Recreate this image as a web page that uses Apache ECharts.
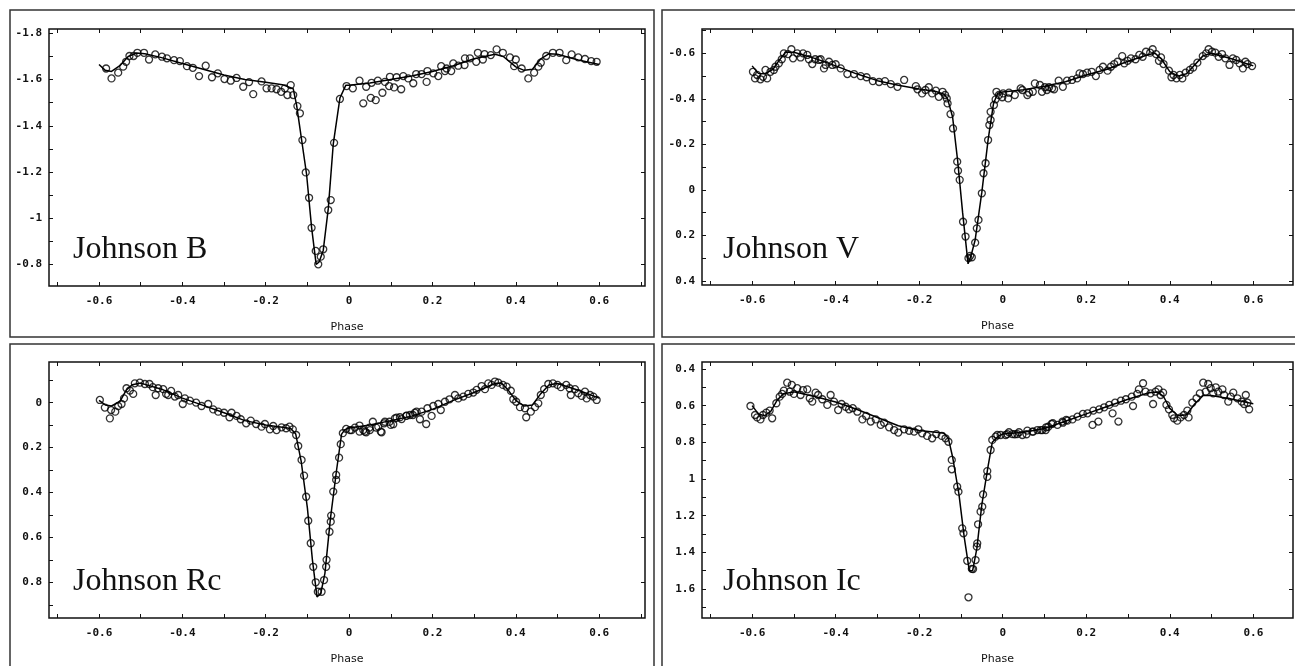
<!DOCTYPE html>
<html>
<head>
<meta charset="utf-8">
<script src="https://cdn.jsdelivr.net/npm/echarts@6/dist/echarts.min.js"></script>
<style>
html,body{margin:0;padding:0;background:#fff;}
#chart{width:1295px;height:666px;}
</style>
</head>
<body>
<div id="chart"></div>
<script>
// ---------- Panel titles ----------
const panelNames = ["Johnson B", "Johnson V", "Johnson Rc", "Johnson Ic"];

// ---------- Tick labels ----------
const xTickLabels = [-0.6, -0.4, -0.2, 0, 0.2, 0.4, 0.6];
const xMinorTicks = [-0.7, -0.6, -0.5, -0.4, -0.3, -0.2, -0.1, 0, 0.1, 0.2, 0.3, 0.4, 0.5, 0.6, 0.7];
const bTickLabels = [-1.8, -1.6, -1.4, -1.2, -1, -0.8];
const vTickLabels = [-0.6, -0.4, -0.2, 0, 0.2, 0.4];
const rTickLabels = [0, 0.2, 0.4, 0.6, 0.8];
const iTickLabels = [0.4, 0.6, 0.8, 1, 1.2, 1.4, 1.6];

// ---------- Johnson B ----------
const bObsPhase = [-0.583,-0.570,-0.554,-0.542,-0.535,-0.527,-0.517,-0.508,-0.492,-0.480,-0.465,-0.449,-0.437,-0.420,-0.406,-0.389,-0.375,-0.360,-0.344,-0.329,-0.315,-0.299,-0.284,-0.270,-0.254,-0.240,-0.230,-0.210,-0.198,-0.186,-0.174,-0.163,-0.154,-0.148,-0.140,-0.134,-0.124,-0.118,-0.112,-0.104,-0.096,-0.090,-0.080,-0.074,-0.068,-0.062,-0.050,-0.044,-0.036,-0.022,-0.006,0.009,0.025,0.034,0.041,0.052,0.054,0.064,0.069,0.080,0.086,0.096,0.098,0.108,0.114,0.125,0.130,0.142,0.154,0.161,0.174,0.186,0.188,0.202,0.214,0.221,0.230,0.234,0.245,0.250,0.262,0.277,0.278,0.290,0.305,0.309,0.321,0.325,0.340,0.354,0.369,0.386,0.396,0.400,0.414,0.430,0.444,0.454,0.460,0.473,0.489,0.505,0.521,0.534,0.550,0.566,0.581,0.594];
const bObsMag = [-1.648,-1.605,-1.630,-1.656,-1.677,-1.702,-1.702,-1.716,-1.716,-1.687,-1.709,-1.699,-1.692,-1.684,-1.680,-1.658,-1.651,-1.615,-1.660,-1.610,-1.627,-1.602,-1.595,-1.607,-1.569,-1.589,-1.537,-1.592,-1.562,-1.562,-1.558,-1.547,-1.562,-1.533,-1.576,-1.533,-1.485,-1.454,-1.338,-1.198,-1.088,-0.958,-0.858,-0.800,-0.833,-0.865,-1.035,-1.078,-1.326,-1.516,-1.572,-1.562,-1.595,-1.497,-1.569,-1.521,-1.586,-1.511,-1.595,-1.543,-1.590,-1.572,-1.612,-1.566,-1.610,-1.558,-1.615,-1.605,-1.584,-1.624,-1.624,-1.590,-1.637,-1.627,-1.615,-1.658,-1.637,-1.648,-1.637,-1.670,-1.660,-1.663,-1.692,-1.692,-1.677,-1.716,-1.687,-1.710,-1.706,-1.731,-1.716,-1.696,-1.658,-1.687,-1.648,-1.605,-1.630,-1.656,-1.673,-1.702,-1.716,-1.716,-1.684,-1.709,-1.696,-1.689,-1.680,-1.677];
const bFitPhase = [-0.60,-0.585,-0.57,-0.55,-0.53,-0.51,-0.49,-0.45,-0.40,-0.35,-0.30,-0.25,-0.20,-0.16,-0.134,-0.126,-0.114,-0.102,-0.090,-0.079,-0.072,-0.062,-0.050,-0.038,-0.022,-0.008,0.00,0.05,0.10,0.15,0.20,0.25,0.30,0.35,0.37,0.40,0.42,0.44,0.46,0.48,0.50,0.55,0.60];
const bFitMag = [-1.665,-1.640,-1.635,-1.660,-1.700,-1.715,-1.712,-1.695,-1.670,-1.645,-1.620,-1.600,-1.588,-1.578,-1.560,-1.490,-1.340,-1.190,-0.960,-0.800,-0.810,-0.860,-1.040,-1.320,-1.520,-1.575,-1.575,-1.585,-1.600,-1.615,-1.635,-1.660,-1.690,-1.710,-1.700,-1.655,-1.640,-1.645,-1.690,-1.712,-1.710,-1.685,-1.665];

// ---------- Johnson V ----------
const vObsPhase = [-0.598,-0.593,-0.588,-0.580,-0.574,-0.568,-0.564,-0.556,-0.548,-0.544,-0.536,-0.529,-0.524,-0.514,-0.506,-0.502,-0.492,-0.484,-0.478,-0.468,-0.464,-0.456,-0.449,-0.440,-0.436,-0.428,-0.424,-0.416,-0.408,-0.400,-0.388,-0.372,-0.356,-0.340,-0.326,-0.311,-0.296,-0.282,-0.268,-0.252,-0.236,-0.208,-0.204,-0.193,-0.185,-0.177,-0.169,-0.160,-0.153,-0.144,-0.138,-0.134,-0.132,-0.125,-0.119,-0.109,-0.107,-0.103,-0.095,-0.089,-0.082,-0.078,-0.074,-0.066,-0.062,-0.058,-0.050,-0.046,-0.041,-0.035,-0.032,-0.029,-0.029,-0.021,-0.017,-0.015,-0.009,-0.001,0.001,0.013,0.015,0.029,0.043,0.047,0.059,0.063,0.072,0.077,0.089,0.094,0.101,0.106,0.111,0.118,0.123,0.134,0.144,0.154,0.166,0.178,0.184,0.192,0.202,0.213,0.223,0.232,0.240,0.251,0.259,0.267,0.275,0.286,0.291,0.299,0.307,0.318,0.327,0.335,0.343,0.353,0.359,0.367,0.374,0.379,0.385,0.398,0.404,0.409,0.416,0.424,0.430,0.438,0.448,0.456,0.466,0.479,0.487,0.493,0.501,0.509,0.517,0.525,0.533,0.543,0.551,0.559,0.567,0.575,0.581,0.586,0.597];
const vObsMag = [-0.519,-0.490,-0.505,-0.486,-0.497,-0.527,-0.490,-0.519,-0.527,-0.541,-0.556,-0.574,-0.600,-0.597,-0.618,-0.578,-0.600,-0.582,-0.600,-0.593,-0.574,-0.553,-0.574,-0.571,-0.574,-0.534,-0.549,-0.563,-0.549,-0.552,-0.534,-0.509,-0.509,-0.500,-0.495,-0.478,-0.474,-0.478,-0.465,-0.453,-0.483,-0.456,-0.442,-0.424,-0.439,-0.451,-0.424,-0.436,-0.409,-0.431,-0.417,-0.402,-0.380,-0.333,-0.270,-0.124,-0.084,-0.044,0.140,0.205,0.300,0.290,0.296,0.232,0.169,0.132,0.015,-0.073,-0.117,-0.219,-0.285,-0.307,-0.343,-0.373,-0.398,-0.431,-0.417,-0.407,-0.424,-0.402,-0.427,-0.417,-0.446,-0.439,-0.417,-0.427,-0.431,-0.468,-0.461,-0.431,-0.451,-0.439,-0.451,-0.446,-0.442,-0.480,-0.453,-0.480,-0.483,-0.490,-0.512,-0.509,-0.515,-0.519,-0.500,-0.527,-0.541,-0.524,-0.541,-0.553,-0.563,-0.588,-0.556,-0.567,-0.578,-0.574,-0.593,-0.585,-0.607,-0.603,-0.618,-0.597,-0.567,-0.582,-0.553,-0.524,-0.495,-0.505,-0.490,-0.505,-0.490,-0.515,-0.527,-0.538,-0.559,-0.588,-0.600,-0.618,-0.607,-0.603,-0.585,-0.597,-0.578,-0.549,-0.578,-0.571,-0.556,-0.534,-0.563,-0.553,-0.544];
const vFitPhase = [-0.60,-0.585,-0.57,-0.55,-0.535,-0.52,-0.50,-0.45,-0.40,-0.35,-0.30,-0.25,-0.20,-0.16,-0.14,-0.132,-0.12,-0.108,-0.096,-0.083,-0.076,-0.066,-0.05,-0.035,-0.022,-0.012,0.00,0.05,0.10,0.15,0.20,0.25,0.30,0.35,0.365,0.38,0.40,0.42,0.44,0.46,0.48,0.50,0.55,0.60];
const vFitMag = [-0.545,-0.512,-0.510,-0.530,-0.570,-0.605,-0.605,-0.578,-0.545,-0.510,-0.480,-0.460,-0.443,-0.432,-0.420,-0.400,-0.320,-0.130,0.100,0.325,0.290,0.220,0.010,-0.220,-0.380,-0.425,-0.430,-0.440,-0.455,-0.475,-0.505,-0.530,-0.565,-0.595,-0.600,-0.575,-0.520,-0.500,-0.510,-0.550,-0.590,-0.600,-0.575,-0.545];

// ---------- Johnson Rc ----------
const rObsPhase = [-0.598,-0.586,-0.574,-0.571,-0.561,-0.554,-0.546,-0.540,-0.534,-0.526,-0.518,-0.514,-0.502,-0.490,-0.479,-0.471,-0.464,-0.458,-0.446,-0.439,-0.434,-0.427,-0.418,-0.410,-0.399,-0.394,-0.382,-0.367,-0.354,-0.338,-0.326,-0.314,-0.300,-0.287,-0.282,-0.270,-0.260,-0.247,-0.236,-0.223,-0.210,-0.202,-0.190,-0.182,-0.174,-0.162,-0.151,-0.143,-0.135,-0.127,-0.122,-0.114,-0.108,-0.103,-0.098,-0.092,-0.086,-0.080,-0.075,-0.066,-0.060,-0.055,-0.054,-0.047,-0.044,-0.043,-0.038,-0.031,-0.031,-0.024,-0.020,-0.015,-0.007,0.002,0.006,0.014,0.025,0.025,0.034,0.038,0.041,0.049,0.050,0.057,0.065,0.070,0.076,0.078,0.084,0.086,0.097,0.100,0.106,0.110,0.114,0.122,0.126,0.137,0.138,0.146,0.153,0.158,0.162,0.170,0.174,0.185,0.188,0.198,0.202,0.214,0.220,0.230,0.241,0.254,0.262,0.274,0.286,0.298,0.306,0.318,0.326,0.334,0.342,0.350,0.358,0.369,0.378,0.388,0.394,0.401,0.410,0.422,0.425,0.436,0.446,0.454,0.460,0.468,0.478,0.489,0.500,0.508,0.521,0.529,0.532,0.542,0.550,0.558,0.566,0.570,0.578,0.586,0.594];
const rObsMag = [-0.012,0.022,0.070,0.033,0.040,0.015,0.006,-0.019,-0.064,-0.054,-0.039,-0.086,-0.089,-0.083,-0.083,-0.069,-0.034,-0.064,-0.060,-0.039,-0.034,-0.052,-0.027,-0.034,0.006,-0.019,-0.009,0.000,0.015,0.006,0.030,0.040,0.045,0.065,0.045,0.059,0.074,0.092,0.080,0.095,0.107,0.095,0.119,0.104,0.122,0.110,0.114,0.107,0.119,0.144,0.193,0.255,0.325,0.419,0.526,0.626,0.731,0.800,0.842,0.842,0.790,0.731,0.700,0.575,0.530,0.503,0.396,0.344,0.322,0.245,0.185,0.136,0.117,0.122,0.122,0.111,0.102,0.129,0.122,0.129,0.132,0.111,0.122,0.085,0.111,0.107,0.129,0.132,0.092,0.085,0.085,0.099,0.096,0.070,0.067,0.065,0.073,0.059,0.058,0.055,0.055,0.045,0.040,0.074,0.040,0.095,0.025,0.059,0.015,0.006,0.033,-0.004,-0.015,-0.034,-0.019,-0.027,-0.039,-0.045,-0.057,-0.074,-0.060,-0.086,-0.079,-0.094,-0.089,-0.079,-0.071,-0.053,-0.015,-0.004,0.020,0.025,0.065,0.040,0.020,0.003,-0.034,-0.060,-0.083,-0.086,-0.079,-0.069,-0.079,-0.064,-0.034,-0.060,-0.042,-0.030,-0.049,-0.019,-0.034,-0.027,-0.012];
const rFitPhase = [-0.60,-0.585,-0.57,-0.55,-0.535,-0.52,-0.50,-0.45,-0.40,-0.35,-0.30,-0.25,-0.20,-0.16,-0.14,-0.128,-0.115,-0.10,-0.088,-0.077,-0.068,-0.058,-0.045,-0.03,-0.018,-0.01,0.00,0.05,0.10,0.15,0.20,0.25,0.30,0.35,0.365,0.38,0.40,0.42,0.44,0.46,0.48,0.50,0.55,0.60];
const rFitMag = [-0.010,0.010,0.015,-0.005,-0.055,-0.080,-0.087,-0.060,-0.020,0.012,0.045,0.080,0.100,0.110,0.115,0.140,0.260,0.470,0.700,0.865,0.850,0.760,0.520,0.300,0.140,0.120,0.113,0.100,0.080,0.060,0.030,-0.010,-0.045,-0.085,-0.088,-0.060,-0.010,0.015,0.010,-0.040,-0.080,-0.085,-0.055,-0.020];

// ---------- Johnson Ic ----------
const iObsPhase = [-0.604,-0.593,-0.588,-0.580,-0.574,-0.566,-0.558,-0.552,-0.542,-0.534,-0.528,-0.524,-0.516,-0.510,-0.505,-0.500,-0.492,-0.484,-0.478,-0.468,-0.462,-0.456,-0.448,-0.442,-0.432,-0.420,-0.412,-0.404,-0.394,-0.386,-0.376,-0.368,-0.359,-0.348,-0.336,-0.327,-0.316,-0.304,-0.292,-0.284,-0.272,-0.260,-0.250,-0.236,-0.224,-0.212,-0.202,-0.193,-0.181,-0.169,-0.159,-0.146,-0.137,-0.130,-0.122,-0.122,-0.109,-0.106,-0.097,-0.094,-0.085,-0.082,-0.074,-0.071,-0.065,-0.062,-0.061,-0.059,-0.053,-0.049,-0.047,-0.037,-0.037,-0.029,-0.025,-0.017,-0.013,-0.005,0.007,0.011,0.015,0.023,0.029,0.035,0.039,0.047,0.057,0.059,0.071,0.073,0.083,0.091,0.095,0.103,0.104,0.109,0.117,0.120,0.131,0.143,0.144,0.152,0.155,0.167,0.179,0.192,0.203,0.215,0.217,0.229,0.231,0.243,0.255,0.263,0.269,0.277,0.283,0.295,0.309,0.312,0.322,0.326,0.336,0.342,0.354,0.360,0.366,0.373,0.378,0.384,0.392,0.398,0.406,0.410,0.418,0.426,0.434,0.442,0.445,0.454,0.464,0.472,0.480,0.486,0.492,0.498,0.504,0.510,0.516,0.526,0.530,0.540,0.546,0.552,0.562,0.572,0.578,0.582,0.586,0.590];
const iObsMag = [0.602,0.651,0.664,0.675,0.651,0.638,0.627,0.669,0.587,0.551,0.536,0.518,0.475,0.524,0.487,0.536,0.505,0.542,0.515,0.511,0.560,0.578,0.529,0.542,0.565,0.596,0.542,0.578,0.624,0.591,0.606,0.620,0.614,0.633,0.675,0.656,0.687,0.675,0.705,0.693,0.718,0.733,0.747,0.729,0.737,0.742,0.729,0.751,0.765,0.778,0.755,0.765,0.778,0.797,0.896,0.947,1.042,1.069,1.269,1.296,1.446,1.645,1.490,1.491,1.442,1.369,1.351,1.247,1.178,1.151,1.084,0.988,0.957,0.842,0.787,0.769,0.760,0.760,0.760,0.755,0.745,0.755,0.756,0.755,0.745,0.760,0.756,0.736,0.742,0.742,0.733,0.733,0.733,0.733,0.718,0.715,0.700,0.696,0.705,0.687,0.693,0.678,0.682,0.675,0.660,0.645,0.642,0.705,0.627,0.687,0.620,0.609,0.596,0.642,0.584,0.687,0.573,0.565,0.551,0.602,0.536,0.511,0.478,0.524,0.533,0.591,0.524,0.511,0.542,0.529,0.596,0.620,0.651,0.669,0.682,0.664,0.651,0.627,0.664,0.584,0.560,0.533,0.475,0.524,0.482,0.505,0.533,0.500,0.524,0.511,0.542,0.578,0.551,0.529,0.560,0.578,0.591,0.542,0.584,0.620];
const iFitPhase = [-0.60,-0.585,-0.57,-0.555,-0.54,-0.525,-0.50,-0.45,-0.40,-0.35,-0.30,-0.25,-0.20,-0.16,-0.14,-0.13,-0.12,-0.105,-0.092,-0.08,-0.072,-0.062,-0.05,-0.035,-0.025,-0.01,0.00,0.05,0.10,0.15,0.20,0.25,0.30,0.35,0.37,0.385,0.40,0.42,0.44,0.46,0.48,0.50,0.55,0.60];
const iFitMag = [0.600,0.645,0.655,0.630,0.570,0.535,0.525,0.550,0.580,0.620,0.665,0.710,0.735,0.745,0.750,0.780,0.880,1.080,1.320,1.500,1.500,1.380,1.140,0.930,0.800,0.765,0.755,0.745,0.725,0.685,0.645,0.605,0.565,0.530,0.525,0.550,0.615,0.655,0.650,0.590,0.545,0.545,0.565,0.590];

// ---------- assemble ----------
const panels = [
  {obsX: bObsPhase, obsY: bObsMag, fitX: bFitPhase, fitY: bFitMag, yTicks: bTickLabels},
  {obsX: vObsPhase, obsY: vObsMag, fitX: vFitPhase, fitY: vFitMag, yTicks: vTickLabels},
  {obsX: rObsPhase, obsY: rObsMag, fitX: rFitPhase, fitY: rFitMag, yTicks: rTickLabels},
  {obsX: iObsPhase, obsY: iObsMag, fitX: iFitPhase, fitY: iFitMag, yTicks: iTickLabels}
];

// layout (pixels) and axis extents
const layout = [
  {grid: {left: 49, top: 29, width: 596, height: 257}, xMin: -0.72, xMax: 0.71, yMin: -1.819, yMax: -0.706, box: [10, 10, 644, 327], text: [73, 250]},
  {grid: {left: 702, top: 29, width: 591, height: 256}, xMin: -0.72, xMax: 0.695, yMin: -0.707, yMax: 0.418, box: [662, 10, 660, 327], text: [723, 250]},
  {grid: {left: 49, top: 362, width: 596, height: 256}, xMin: -0.72, xMax: 0.71, yMin: -0.181, yMax: 0.959, box: [10, 344, 644, 340], text: [73, 582]},
  {grid: {left: 702, top: 362, width: 591, height: 256}, xMin: -0.72, xMax: 0.695, yMin: 0.362, yMax: 1.758, box: [662, 344, 660, 340], text: [723, 582]}
];

const tickFont = {fontFamily: '"DejaVu Sans Mono", monospace', fontSize: 11, fontWeight: 'bold', color: '#111'};
const frameColor = '#111';

const grids = [], xAxes = [], yAxes = [], series = [], graphics = [];

function inRange(vals, a, b) {
  const lo = Math.min(a, b), hi = Math.max(a, b);
  return vals.filter(v => v >= lo - 1e-9 && v <= hi + 1e-9);
}

panels.forEach((p, i) => {
  const L = layout[i];
  grids.push(Object.assign({show: true, borderColor: frameColor, borderWidth: 1.5, backgroundColor: '#fff', containLabel: false}, L.grid));

  const xt = inRange(xMinorTicks, L.xMin, L.xMax);
  // bottom x axis
  xAxes.push({
    type: 'value', gridIndex: i, position: 'bottom', min: L.xMin, max: L.xMax,
    axisLine: {show: false, onZero: false},
    axisTick: {show: true, inside: true, length: 4, customValues: xt, lineStyle: {color: frameColor, width: 1}},
    axisLabel: Object.assign({show: true, margin: 10, customValues: xTickLabels}, tickFont),
    splitLine: {show: false},
    name: 'Phase', nameLocation: 'middle', nameGap: 36,
    nameTextStyle: {fontFamily: '"DejaVu Sans", sans-serif', fontSize: 11, color: '#111'}
  });
  // top x axis (ticks only)
  xAxes.push({
    type: 'value', gridIndex: i, position: 'top', min: L.xMin, max: L.xMax,
    axisLine: {show: false, onZero: false},
    axisTick: {show: true, inside: true, length: 4, customValues: xt, lineStyle: {color: frameColor, width: 1}},
    axisLabel: {show: false}, splitLine: {show: false}
  });

  const yMinor = [];
  for (let k = -20; k <= 20; k++) yMinor.push(Math.round(k * 10) / 100);
  const ytMinor = inRange(yMinor, L.yMin, L.yMax);
  // left y axis
  yAxes.push({
    type: 'value', gridIndex: i, position: 'left', inverse: true, min: L.yMin, max: L.yMax,
    axisLine: {show: false, onZero: false},
    axisTick: {show: true, inside: true, length: 4, customValues: ytMinor, lineStyle: {color: frameColor, width: 1}},
    axisLabel: Object.assign({show: true, margin: 7, customValues: p.yTicks}, tickFont),
    splitLine: {show: false}
  });
  // right y axis (ticks only)
  yAxes.push({
    type: 'value', gridIndex: i, position: 'right', inverse: true, min: L.yMin, max: L.yMax,
    axisLine: {show: false, onZero: false},
    axisTick: {show: true, inside: true, length: 4, customValues: p.yTicks, lineStyle: {color: frameColor, width: 1}},
    axisLabel: {show: false}, splitLine: {show: false}
  });

  series.push({
    type: 'scatter', xAxisIndex: 2 * i, yAxisIndex: 2 * i,
    data: p.obsX.map((x, k) => [x, p.obsY[k]]),
    symbol: 'circle', symbolSize: 7,
    itemStyle: {color: 'rgba(255,255,255,0)', borderColor: '#000', borderWidth: 1.3},
    emphasis: {disabled: true}, z: 3
  });
  series.push({
    type: 'line', xAxisIndex: 2 * i, yAxisIndex: 2 * i,
    data: p.fitX.map((x, k) => [x, p.fitY[k]]),
    showSymbol: false, smooth: false,
    lineStyle: {color: '#000', width: 1.5},
    emphasis: {disabled: true}, z: 4
  });

  graphics.push({
    type: 'rect', silent: true, z: -10,
    shape: {x: L.box[0], y: L.box[1], width: L.box[2], height: L.box[3]},
    style: {fill: 'none', stroke: '#333', lineWidth: 1.5}
  });
  graphics.push({
    type: 'text', silent: true, z: 100,
    x: L.text[0], y: L.text[1],
    style: {text: panelNames[i], font: '32px "Liberation Serif", serif', fill: '#111', align: 'left', verticalAlign: 'middle'}
  });
});

const chart = echarts.init(document.getElementById('chart'), null, {renderer: 'canvas'});
chart.setOption({
  backgroundColor: '#fff',
  animation: false,
  grid: grids,
  xAxis: xAxes,
  yAxis: yAxes,
  series: series,
  graphic: graphics,
  tooltip: {show: false}
});
</script>
</body>
</html>
